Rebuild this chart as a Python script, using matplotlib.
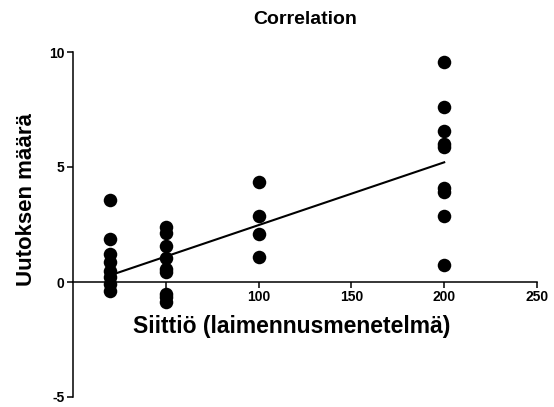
import numpy as np
import matplotlib
matplotlib.use('Agg')
import matplotlib.pyplot as plt

plt.rcParams['font.family'] = ['Liberation Sans', 'DejaVu Sans']
plt.rcParams['font.weight'] = 'bold'
plt.rcParams['axes.unicode_minus'] = False

x_20 = [3.55, 1.85, 1.2, 0.85, 0.5, 0.2, -0.1, -0.37]
x_50 = [2.4, 2.15, 1.55, 1.05, 0.55, 0.45, -0.5, -0.65, -0.85]
x_100 = [4.35, 2.85, 2.1, 1.1]
x_200 = [9.55, 7.6, 6.55, 6.0, 5.85, 4.1, 3.9, 2.85, 0.72]
groups = [20, 50, 100, 200]
values = [x_20, x_50, x_100, x_200]

# linear fit shown in the chart
fit_slope = 0.0273
fit_intercept = -0.256
fit_range = [20, 200]

xticks = [50, 100, 150, 200, 250]
xticklabels = ['', '100', '150', '200', '250']
yticks = [-5, 0, 5, 10]

fig = plt.figure(figsize=(5.54, 4.07), dpi=100)
ax = fig.add_axes([73/554, 10/407, 464/554, 345/407])

for g, v in zip(groups, values):
    ax.scatter([g]*len(v), v, s=95, color='black', zorder=3, clip_on=False, linewidths=0)

fx = np.array(fit_range)
ax.plot(fx, fit_slope*fx + fit_intercept, color='black', lw=1.5, zorder=2)

ax.set_xlim(0, 250)
ax.set_ylim(-5, 10)
ax.spines['top'].set_visible(False)
ax.spines['right'].set_visible(False)
ax.spines['bottom'].set_position(('data', 0))
for s in ['left', 'bottom']:
    ax.spines[s].set_linewidth(1.1)

ax.set_xticks(xticks)
ax.set_xticklabels(xticklabels)
ax.set_yticks(yticks)
ax.tick_params(axis='both', direction='out', length=4, width=1.1, labelsize=10, pad=2)

fig.text(305/554, 1 - 19/407, 'Correlation', ha='center', va='center', fontsize=14, fontweight='bold')
fig.text(27/554, 1 - 200/407, 'Uutoksen määrä', rotation=90, ha='center', va='center', fontsize=16, fontweight='bold')
fig.text(292/554, 1 - 326/407, 'Siittiö (laimennusmenetelmä)', ha='center', va='center', fontsize=16.5, fontweight='bold')

fig.savefig('out.png', dpi=100)
